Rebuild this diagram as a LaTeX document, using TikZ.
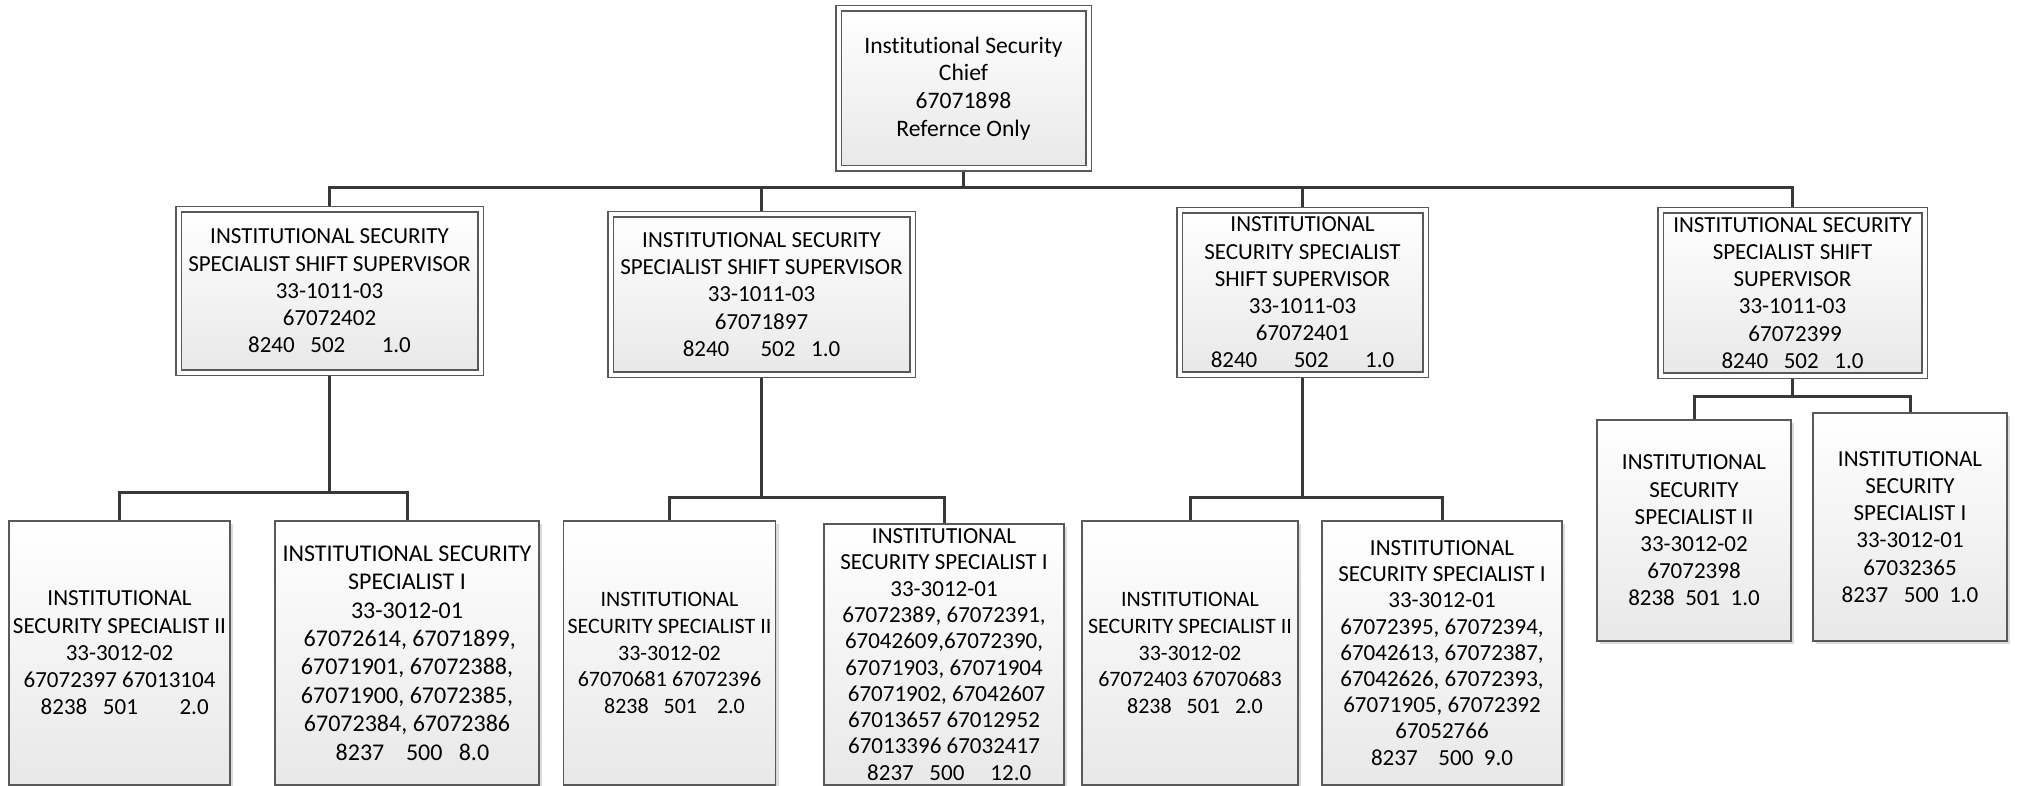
\documentclass[tikz,border=0pt]{standalone}
\usepackage{fontspec}
\setmainfont{Carlito}[Ligatures={NoCommon}]
\usetikzlibrary{shadows,backgrounds}

\begin{document}
\begin{tikzpicture}[x=0.5pt, y=-0.5pt,
  box/.style={draw=black!65, line width=0.6pt, top color=white, bottom color=black!9,
    align=center, inner sep=2pt, font=\fontsize{11.5}{13.6}\selectfont,
    drop shadow={shadow xshift=1.6pt, shadow yshift=-1.6pt, opacity=0.14, fill=black}},
  dbox/.style={box, double=white, double distance=2pt},
  link/.style={draw=black!78, line width=1.5pt}]

  \useasboundingbox (0,0) rectangle (2017,786);

  %% Top: chief
  \node[dbox, minimum width=125pt, minimum height=80pt, font=\fontsize{11.8}{13.9}\selectfont] (chief) at (963.5,88.5)
    {Institutional Security\\Chief\\67071898\\Refernce Only};

  %% Middle row: shift supervisors
  \node[dbox, minimum width=151pt, minimum height=81.5pt] (supA) at (329.5,291)
    {INSTITUTIONAL SECURITY\\SPECIALIST SHIFT SUPERVISOR\\33-1011-03\\67072402\\8240~~~502~~~~~~~1.0};
  \node[dbox, minimum width=151pt, minimum height=80pt] (supB) at (761.5,294.5)
    {INSTITUTIONAL SECURITY\\SPECIALIST SHIFT SUPERVISOR\\33-1011-03\\67071897\\8240~~~~~~502~~~1.0};
  \node[dbox, minimum width=123pt, minimum height=82pt] (supC) at (1302.5,292.5)
    {INSTITUTIONAL\\SECURITY SPECIALIST\\SHIFT SUPERVISOR\\33-1011-03\\67072401\\8240~~~~~~~502~~~~~~~1.0};
  \node[dbox, minimum width=132pt, minimum height=82.5pt] (supD) at (1792.5,293)
    {INSTITUTIONAL SECURITY\\SPECIALIST SHIFT\\SUPERVISOR\\33-1011-03\\~67072399\\8240~~~502~~~1.0};

  %% Bottom row: specialists
  \node[box, minimum width=108.5pt, minimum height=132pt] (specA1) at (119.5,653)
    {INSTITUTIONAL\\SECURITY SPECIALIST II\\33-3012-02\\67072397 67013104\\~~8238~~~501~~~~~~~~2.0};
  \node[box, minimum width=132pt, minimum height=132pt, font=\fontsize{12}{14.2}\selectfont] (specA2) at (407,653)
    {INSTITUTIONAL SECURITY\\SPECIALIST I\\33-3012-01\\~67072614, 67071899,\\67071901, 67072388,\\67071900, 67072385,\\67072384, 67072386\\~~8237~~~~500~~~8.0};
  \node[box, minimum width=103.5pt, minimum height=132pt, font=\fontsize{11}{13.4}\selectfont] (specB1) at (669.5,653)
    {INSTITUTIONAL\\SECURITY SPECIALIST II\\33-3012-02\\67070681 67072396\\~~8238~~~501~~~~2.0};
  \node[box, minimum width=120pt, minimum height=130.5pt, font=\fontsize{11.5}{13.15}\selectfont] (specB2) at (944,654.5)
    {INSTITUTIONAL\\SECURITY SPECIALIST I\\33-3012-01\\67072389, 67072391,\\67042609,67072390,\\67071903, 67071904\\~67071902, 67042607\\67013657 67012952\\67013396 67032417\\~~8237~~~500~~~~~12.0};
  \node[box, minimum width=108pt, minimum height=132pt, font=\fontsize{11}{13.4}\selectfont] (specC1) at (1190,653)
    {INSTITUTIONAL\\SECURITY SPECIALIST II\\33-3012-02\\67072403 67070683\\~~8238~~~501~~~2.0};
  \node[box, minimum width=120pt, minimum height=132pt, font=\fontsize{11.5}{13.1}\selectfont] (specC2) at (1442,653)
    {INSTITUTIONAL\\SECURITY SPECIALIST I\\33-3012-01\\67072395, 67072394,\\67042613, 67072387,\\67042626, 67072393,\\67071905, 67072392\\67052766\\8237~~~~500~~9.0};
  \node[box, minimum width=97pt, minimum height=110.5pt] (specD1) at (1694,530.5)
    {INSTITUTIONAL\\SECURITY\\SPECIALIST II\\33-3012-02\\67072398\\8238~~501~~1.0};
  \node[box, minimum width=97pt, minimum height=114pt] (specD2) at (1910,527)
    {INSTITUTIONAL\\SECURITY\\SPECIALIST I\\33-3012-01\\67032365\\8237~~~500~~1.0};

  %% Connectors
  \begin{scope}[on background layer]
    % chief to supervisors
    \foreach \s in {supA,supB,supC,supD}
      \draw[link] (chief.south) -- ++(0,18.5) -| (\s.north);
    % supervisors to specialists
    \draw[link] (supA.south) -- ++(0,119.5) -| (specA1.north);
    \draw[link] (supA.south) -- ++(0,119.5) -| (specA2.north);
    \draw[link] (supB.south) -- ++(0,122.5) -| (specB1.north);
    \draw[link] (supB.south) -- ++(0,122.5) -| (specB2.north);
    \draw[link] (supC.south) -- ++(0,122.5) -| (specC1.north);
    \draw[link] (supC.south) -- ++(0,122.5) -| (specC2.north);
    \draw[link] (supD.south) -- ++(0,20.5) -| (specD1.north);
    \draw[link] (supD.south) -- ++(0,20.5) -| (specD2.north);
  \end{scope}

\end{tikzpicture}
\end{document}
